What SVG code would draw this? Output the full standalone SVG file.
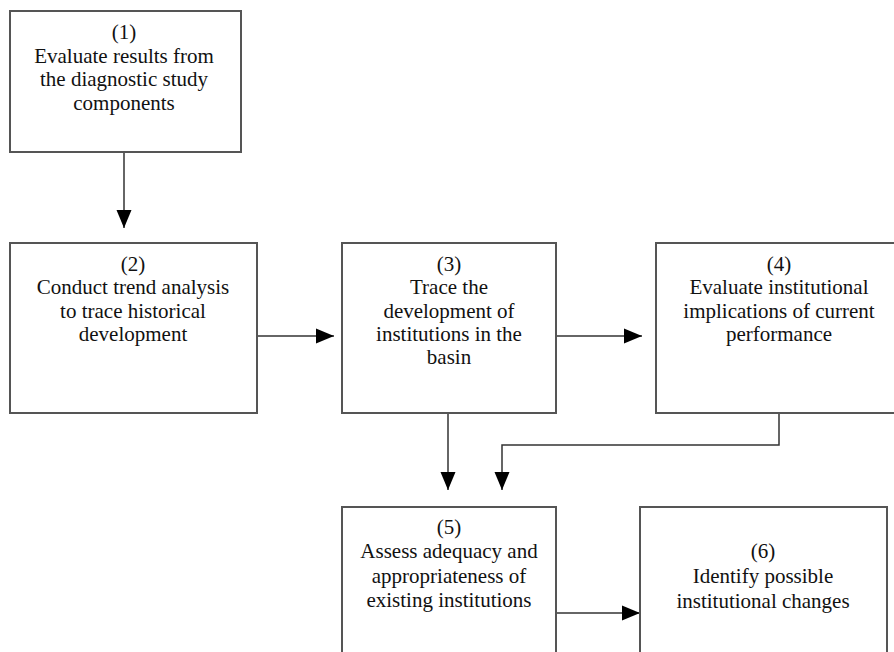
<svg xmlns="http://www.w3.org/2000/svg" width="894" height="652" viewBox="0 0 894 652">
<defs>
<style>
.box{fill:#fff;stroke:#555;stroke-width:2}
.t{font-size:21px;fill:#111;text-anchor:middle}
.c{fill:none;stroke:#333;stroke-width:1.5}
</style>
<marker id="ah" markerUnits="userSpaceOnUse" markerWidth="18" markerHeight="18" viewBox="0 0 18 18" refX="18" refY="9" orient="auto">
<polygon points="0,1.5 18,9 0,16.5" fill="#000"/>
</marker>
</defs>
<rect width="894" height="652" fill="#fff"/>
<g id="connectors">
<line class="c" x1="124" y1="152" x2="124" y2="228" marker-end="url(#ah)"/>
<line class="c" x1="257" y1="336" x2="334" y2="336" marker-end="url(#ah)"/>
<line class="c" x1="556" y1="336" x2="642" y2="336" marker-end="url(#ah)"/>
<line class="c" x1="448" y1="413" x2="448" y2="490" marker-end="url(#ah)"/>
<polyline class="c" points="779,413 779,445 502,445 502,490" marker-end="url(#ah)"/>
<line class="c" x1="556" y1="613" x2="640" y2="613" marker-end="url(#ah)"/>
</g>
<g font-family="'Liberation Serif', 'Times New Roman', 'DejaVu Serif', serif">
<g id="n1">
<rect class="box" x="10" y="11" width="231" height="141"/>
<text class="t" x="124" y="39">(1)</text>
<text class="t" x="124" y="63">Evaluate results from</text>
<text class="t" x="124" y="86">the diagnostic study</text>
<text class="t" x="124" y="110">components</text>
</g>
<g id="n2">
<rect class="box" x="10" y="243" width="247" height="170"/>
<text class="t" x="133" y="271">(2)</text>
<text class="t" x="133" y="294">Conduct trend analysis</text>
<text class="t" x="133" y="318">to trace historical</text>
<text class="t" x="133" y="341">development</text>
</g>
<g id="n3">
<rect class="box" x="342" y="243" width="214" height="170"/>
<text class="t" x="449" y="271">(3)</text>
<text class="t" x="449" y="294">Trace the</text>
<text class="t" x="449" y="318">development of</text>
<text class="t" x="449" y="341">institutions in the</text>
<text class="t" x="449" y="364">basin</text>
</g>
<g id="n4">
<rect class="box" x="656" y="243" width="250" height="170"/>
<text class="t" x="779" y="271">(4)</text>
<text class="t" x="779" y="294">Evaluate institutional</text>
<text class="t" x="779" y="318">implications of current</text>
<text class="t" x="779" y="341">performance</text>
</g>
<g id="n5">
<rect class="box" x="342" y="507" width="214" height="160"/>
<text class="t" x="449" y="534">(5)</text>
<text class="t" x="449" y="558">Assess adequacy and</text>
<text class="t" x="449" y="583">appropriateness of</text>
<text class="t" x="449" y="607">existing institutions</text>
</g>
<g id="n6">
<rect class="box" x="640" y="507" width="247" height="160"/>
<text class="t" x="763" y="558">(6)</text>
<text class="t" x="763" y="583">Identify possible</text>
<text class="t" x="763" y="608">institutional changes</text>
</g>
</g>
</svg>
